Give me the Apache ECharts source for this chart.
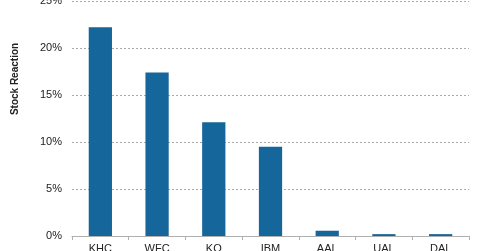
<!DOCTYPE html>
<html>
<head>
<meta charset="utf-8">
<script src="https://cdn.jsdelivr.net/npm/echarts@6/dist/echarts.min.js"></script>
<style>html,body{margin:0;padding:0;background:#fff;}#c{width:480px;height:251px;}</style>
</head>
<body>
<div id="c"></div>
<script>
const categories = ['KHC', 'WFC', 'KO', 'IBM', 'AAL', 'UAL', 'DAL'];
const values = [22.2, 17.4, 12.1, 9.5, 0.56, 0.2, 0.2];
const yTicks = [0, 5, 10, 15, 20, 25];
const yAxisTitle = 'Stock Reaction';

const chart = echarts.init(document.getElementById('c'));
chart.setOption({
  animation: false,
  grid: { left: 72, right: 11, top: 1, bottom: 15, containLabel: false, outerBoundsMode: 'none' },
  xAxis: {
    type: 'category',
    data: categories,
    boundaryGap: true,
    axisLine: { lineStyle: { color: '#b0b0b0', width: 1 } },
    axisTick: { show: true, alignWithLabel: false, length: 4, lineStyle: { color: '#b0b0b0' } },
    axisLabel: { color: '#222', fontFamily: 'Liberation Sans, Arial', fontSize: 11, margin: 7, hideOverlap: false }
  },
  yAxis: {
    type: 'value',
    min: yTicks[0],
    max: yTicks[yTicks.length - 1],
    interval: 5,
    axisLine: { show: false },
    axisTick: { show: false },
    axisLabel: { color: '#222', fontFamily: 'Liberation Sans, Arial', fontSize: 11, margin: 10, formatter: v => v + '%' },
    splitLine: { lineStyle: { color: '#aaaaaa', type: [2, 2], width: 1 } }
  },
  graphic: [{
    type: 'text',
    rotation: Math.PI / 2,
    x: 15, y: 79,
    style: {
      text: yAxisTitle,
      fill: '#222',
      font: 'bold 10px Liberation Sans, Arial',
      textAlign: 'center',
      textVerticalAlign: 'middle'
    }
  }],
  series: [{
    type: 'bar',
    data: values,
    barWidth: '41%',
    itemStyle: { color: '#15669b' }
  }]
});
</script>
</body>
</html>
